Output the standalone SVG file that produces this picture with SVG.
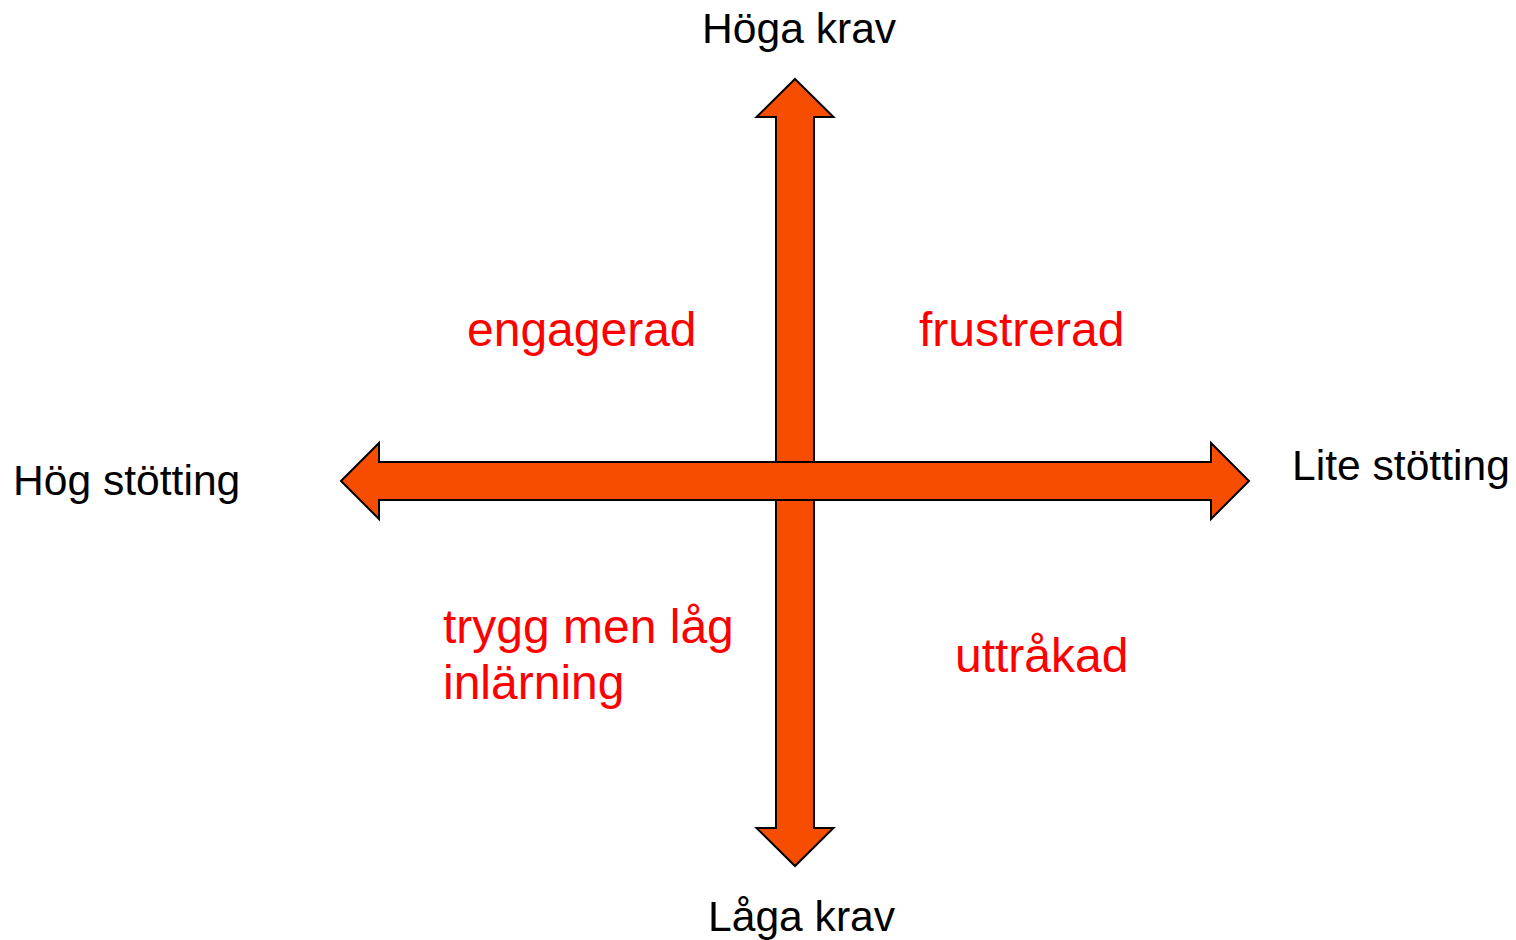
<svg xmlns="http://www.w3.org/2000/svg" width="1516" height="940" viewBox="0 0 1516 940">
<style>
.arrow{fill:#F64D00;stroke:#000;stroke-width:2;stroke-linejoin:miter}
.axis{font-family:"Liberation Sans",Arial,sans-serif;font-size:42.6px;fill:#000}
.q{font-family:"Liberation Sans",Arial,sans-serif;font-size:48px;fill:#FF0000}
</style>
<rect width="1516" height="940" fill="#fff"/>
<g id="connectors">
<polygon id="vertical-arrow" class="arrow" points="795,79 833.5,117 814,117 814,828 833.5,828 795,866 756.5,828 776,828 776,117 756.5,117"/>
<polygon id="horizontal-arrow" class="arrow" points="341,481 379,443 379,462 1211,462 1211,443 1249,481 1211,519 1211,500 379,500 379,519"/>
</g>
<g id="label-top"><text class="axis" x="702" y="43">Höga krav</text></g>
<g id="label-bottom"><text class="axis" x="708" y="931">Låga krav</text></g>
<g id="label-left"><text class="axis" x="13" y="495">Hög stötting</text></g>
<g id="label-right"><text class="axis" x="1292" y="480">Lite stötting</text></g>
<g id="q-engagerad"><text class="q" x="467" y="346">engagerad</text></g>
<g id="q-frustrerad"><text class="q" x="919" y="346">frustrerad</text></g>
<g id="q-trygg"><text class="q" x="443"><tspan x="443" y="643">trygg men låg</tspan><tspan x="443" y="699">inlärning</tspan></text></g>
<g id="q-uttrakad"><text class="q" x="955" y="672">uttråkad</text></g>
</svg>
